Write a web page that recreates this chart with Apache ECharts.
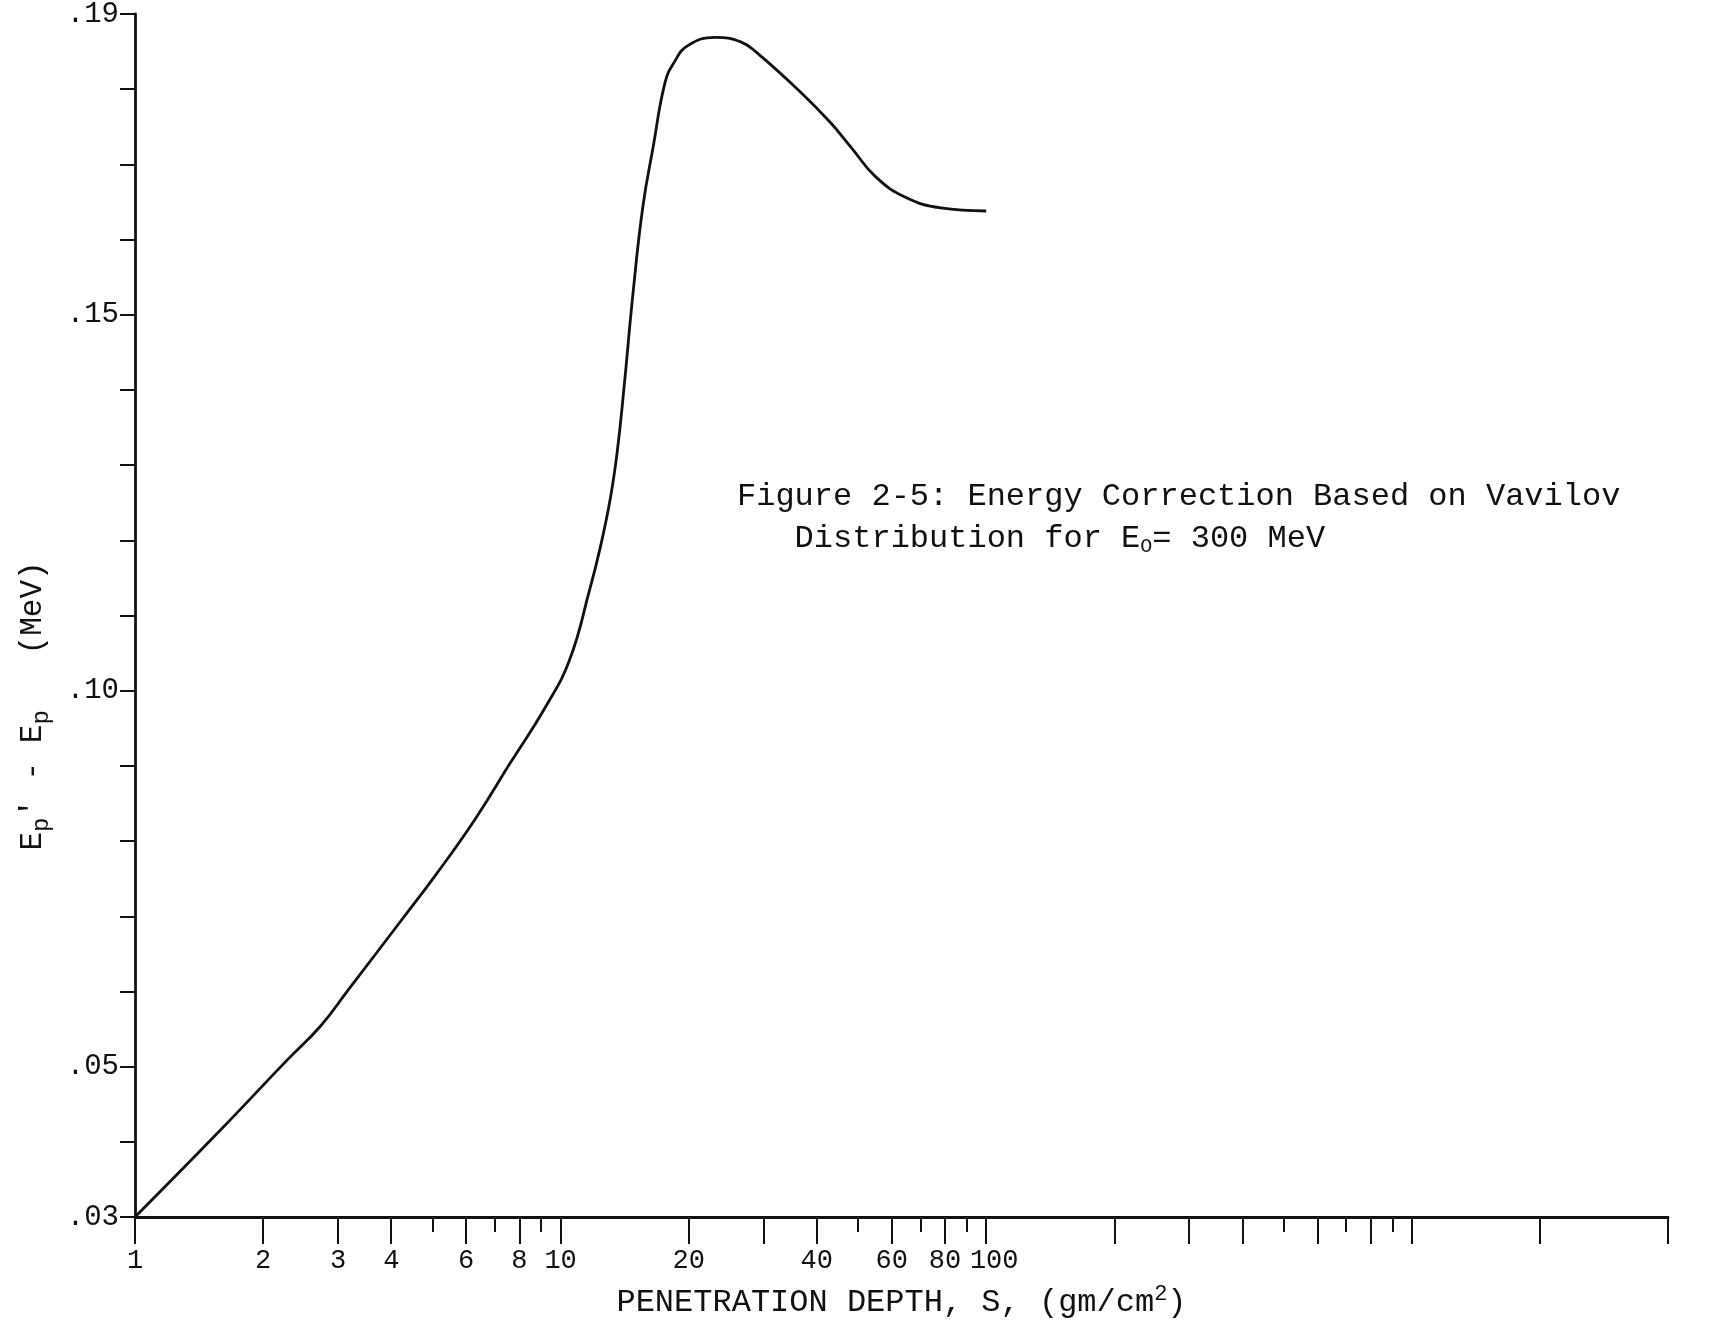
<!DOCTYPE html>
<html>
<head>
<meta charset="utf-8">
<title>Figure 2-5</title>
<script src="https://cdn.jsdelivr.net/npm/echarts@6/dist/echarts.min.js"></script>
<style>
html, body { margin: 0; padding: 0; background: #fff; }
#chart { width: 1719px; height: 1325px; }
</style>
</head>
<body>
<div id="chart"></div>
<script>
// penetration depth S (gm/cm2)
var depthS = [1, 1.59, 2.28, 2.72, 3.17, 4.23, 5.09, 6.28, 7.62, 9.21, 10.5, 11.7, 12.4, 13.1, 13.6, 14.1,
	14.8, 15.6, 16.5, 17.6, 18.5, 19.9, 23.1, 26.5, 29.0, 36.8, 43.0, 48.1, 55.1, 64.8, 78.2, 100];
// Ep' - Ep (MeV)
var correction = [0.0300, 0.0416, 0.0509, 0.0553, 0.0602, 0.0695, 0.0755, 0.0828, 0.0904, 0.0978, 0.1041,
	0.1134, 0.1191, 0.1257, 0.1320, 0.1404, 0.1529, 0.1643, 0.1723, 0.1809, 0.1836, 0.1858, 0.1869,
	0.1863, 0.1848, 0.1795, 0.1756, 0.1723, 0.1683, 0.1656, 0.1642, 0.1638];

// axis marks
var xLabels = [1, 2, 3, 4, 6, 8, 10, 20, 40, 60, 80, 100];
var xLongTicks = [1, 2, 3, 4, 6, 8, 10, 20, 30, 40, 60, 80, 100, 200, 300, 400, 600, 800, 1000, 2000, 4000];
var xShortTicks = [5, 7, 9, 50, 70, 90, 500, 700, 900];
var yLabels = [0.03, 0.05, 0.10, 0.15, 0.19];

var xMax = 4000;
var mono = '"Liberation Mono", "DejaVu Sans Mono", monospace';
var ink = '#111';

function drawChart(){
	var chart = echarts.init(document.getElementById('chart'));
	var points = [];
	for (var i = 0; i < depthS.length; i++) {
		points.push([depthS[i], correction[i]]);
	}

	var option = {
		backgroundColor: '#fff',
		animation: false,
		grid: {left: 135, right: 51, top: 14, bottom: 108, containLabel: false, outerBoundsMode: 'none'},
		xAxis: [{
			type: 'log', logBase: 10, min: 1, max: xMax, position: 'bottom',
			axisLine: {onZero: false, lineStyle: {color: ink, width: 2.8}},
			axisTick: {show: true, customValues: xLongTicks, length: 27, lineStyle: {color: ink, width: 2}},
			axisLabel: {
				customValues: xLabels, margin: 30, color: ink, fontFamily: mono, fontSize: 27,
				formatter: function(v){
					var s = String(Math.round(v));
					// the typed "100" sits a little right of its tick
					return s === '100' ? '{r|100}' : s;
				},
				rich: {r: {fontFamily: mono, fontSize: 27, color: ink, padding: [0, 0, 0, 16]}}
			},
			splitLine: {show: false}, minorTick: {show: false}, minorSplitLine: {show: false},
			name: '{b|PENETRATION DEPTH, S, (gm/cm}{sup|2}{b|)}',
			nameLocation: 'middle', nameGap: 66,
			nameTextStyle: {
				rich: {
					b: {fontFamily: mono, fontSize: 32, color: ink, lineHeight: 40},
					sup: {fontFamily: mono, fontSize: 22, color: ink, padding: [0, 0, 18, 0]}
				}
			}
		}, {
			type: 'log', logBase: 10, min: 1, max: xMax, position: 'bottom',
			axisLine: {show: false, onZero: false},
			axisTick: {show: true, customValues: xShortTicks, length: 15, lineStyle: {color: ink, width: 2}},
			axisLabel: {show: false},
			splitLine: {show: false}
		}],
		yAxis: {
			type: 'value', min: 0.03, max: 0.19, interval: 0.01,
			axisLine: {show: true, onZero: false, lineStyle: {color: ink, width: 2.8}},
			axisTick: {show: true, length: 15, lineStyle: {color: ink, width: 2}},
			axisLabel: {
				customValues: yLabels, margin: 16, color: ink, fontFamily: mono, fontSize: 29,
				formatter: function(v){ return '.' + ('0' + Math.round(v * 100)).slice(-2); }
			},
			splitLine: {show: false}
		},
		graphic: [{
			type: 'text', x: 737, y: 476,
			style: {
				text: '{b|Figure 2-5: Energy Correction Based on Vavilov}\n{b|   Distribution for E}{sub|O}{b|= 300 MeV}',
				fill: ink, verticalAlign: 'top',
				rich: {
					b: {fontFamily: mono, fontSize: 32, fill: ink, lineHeight: 42},
					sub: {fontFamily: mono, fontSize: 20, fill: ink, padding: [16, 0, 0, 0]}
				}
			}
		}, {
			type: 'text', x: 33, y: 706, rotation: Math.PI / 2,
			style: {
				text: '{b|E}{sub|p}{b|\' - E}{sub|p}{b|   (MeV)}',
				fill: ink, align: 'center', verticalAlign: 'middle',
				rich: {
					b: {fontFamily: mono, fontSize: 31, fill: ink, lineHeight: 40},
					sub: {fontFamily: mono, fontSize: 24, fill: ink, padding: [18, 0, 0, 0]}
				}
			}
		}],
		series: [{
			type: 'line', xAxisIndex: 0, data: points,
			symbol: 'none', smooth: 0.45, clip: false,
			lineStyle: {color: ink, width: 2.8}
		}]
	};
	chart.setOption(option);
}

drawChart();
</script>
</body>
</html>
